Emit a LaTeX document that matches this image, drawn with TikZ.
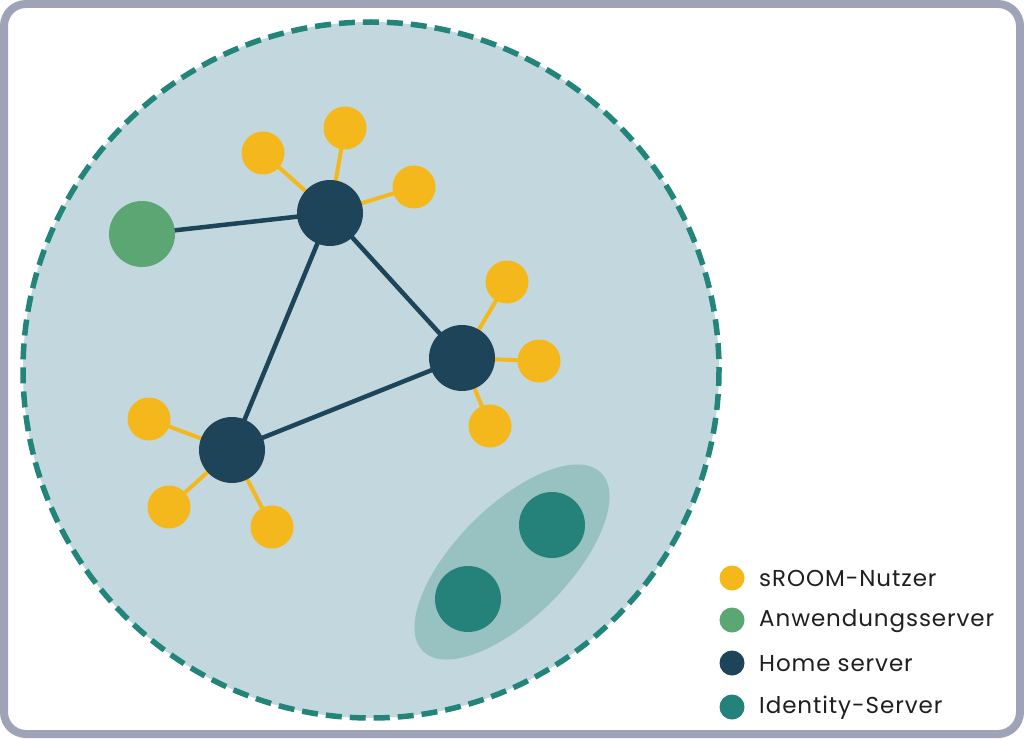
\documentclass[tikz,border=0pt]{standalone}
\usepackage{fontspec}
\setmainfont{Poppins}
\definecolor{framec}{HTML}{9FA3B8}
\definecolor{bgc}{HTML}{C2D8DE}
\definecolor{dashc}{HTML}{23857A}
\definecolor{homec}{HTML}{1D4459}
\definecolor{appc}{HTML}{5BA672}
\definecolor{userc}{HTML}{F5B81C}
\definecolor{idc}{HTML}{25827A}
\definecolor{ellc}{HTML}{98C1C2}
\definecolor{txtc}{HTML}{1F1F1F}
\begin{document}
\begin{tikzpicture}[x=1pt,y=-1pt,
  homenode/.style={circle,fill=homec,minimum size=66pt,inner sep=0pt},
  appnode/.style={circle,fill=appc,minimum size=66pt,inner sep=0pt},
  usernode/.style={circle,fill=userc,minimum size=43pt,inner sep=0pt},
  idnode/.style={circle,fill=idc,minimum size=66pt,inner sep=0pt},
  homeedge/.style={draw=homec,line width=4.5pt},
  useredge/.style={draw=userc,line width=4pt},
  legdot/.style={circle,minimum size=25pt,inner sep=0pt},
  legtext/.style={anchor=west,inner sep=0pt,text=txtc,font=\fontsize{23}{27}\selectfont\addfontfeatures{LetterSpace=4}}]
\useasboundingbox (0,0) rectangle (1024,738);
\fill[white] (0,0) rectangle (1024,738);
\draw[framec,line width=8pt,rounded corners=22pt] (4,4) rectangle (1020,734);
\fill[bgc] (371,370) circle[radius=348];
\draw[dashc,line width=5.5pt,dash pattern=on 16pt off 8pt] (371,370) circle[radius=348];
\fill[ellc,rotate around={45:(512,562)}] (512,562) ellipse[x radius=126,y radius=56];
% node positions
\coordinate (A) at (330,213);
\coordinate (B) at (462,358);
\coordinate (C) at (232,450);
\coordinate (G) at (142,234);
\coordinate (a1) at (263,153);
\coordinate (a2) at (345,128);
\coordinate (a3) at (414,187);
\coordinate (b1) at (507,282);
\coordinate (b2) at (539,361);
\coordinate (b3) at (490,426);
\coordinate (c1) at (149,419);
\coordinate (c2) at (169,507);
\coordinate (c3) at (272,527);
% edges
\path[homeedge] (G) -- (A);
\path[homeedge] (A) -- (B);
\path[homeedge] (A) -- (C);
\path[homeedge] (B) -- (C);
\foreach \u/\h in {a1/A,a2/A,a3/A,b1/B,b2/B,b3/B,c1/C,c2/C,c3/C}{\path[useredge] (\u) -- (\h);}
% nodes
\node[homenode] (nA) at (A) {};
\node[homenode] (nB) at (B) {};
\node[homenode] (nC) at (C) {};
\node[appnode] (nG) at (G) {};
\foreach \u in {a1,a2,a3,b1,b2,b3,c1,c2,c3}{\node[usernode] (n\u) at (\u) {};}
\node[idnode] (I1) at (468,599) {};
\node[idnode] (I2) at (552,525) {};
% legend
\node[legdot,fill=userc] (l1) at (732,578) {};
\node[legdot,fill=appc] (l2) at (732,620) {};
\node[legdot,fill=homec] (l3) at (732,663) {};
\node[legdot,fill=idc] (l4) at (732,707) {};
\node[legtext] (t1) at (759,578) {sROOM-Nutzer};
\node[legtext] (t2) at (759,621) {Anwendungsserver};
\node[legtext] (t3) at (759,664) {Home server};
\node[legtext] (t4) at (759,708) {Identity-Server};
\end{tikzpicture}
\end{document}
